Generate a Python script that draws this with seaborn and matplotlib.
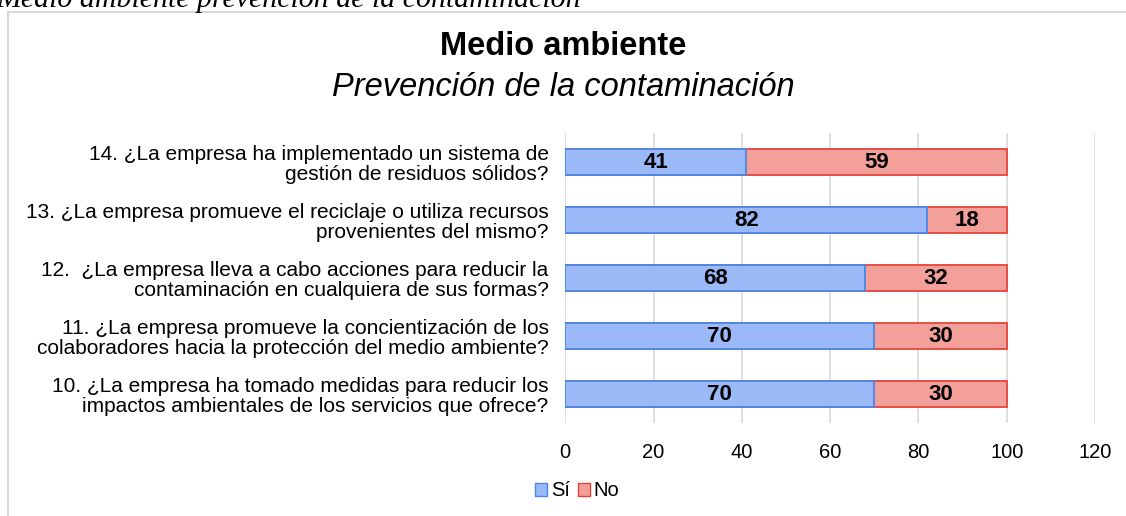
import pandas as pd
import matplotlib.pyplot as plt
import seaborn as sns
from matplotlib.patches import Rectangle, Patch

# Datos (de arriba hacia abajo)
preguntas = [
    "14. ¿La empresa ha implementado un sistema de\ngestión de residuos sólidos?",
    "13. ¿La empresa promueve el reciclaje o utiliza recursos\nprovenientes del mismo?",
    "12.  ¿La empresa lleva a cabo acciones para reducir la\ncontaminación en cualquiera de sus formas?",
    "11. ¿La empresa promueve la concientización de los\ncolaboradores hacia la protección del medio ambiente?",
    "10. ¿La empresa ha tomado medidas para reducir los\nimpactos ambientales de los servicios que ofrece?",
]
si = [41, 82, 68, 70, 70]
no = [59, 18, 32, 30, 30]
ticks_x = [0, 20, 40, 60, 80, 100, 120]

df = pd.DataFrame({"pregunta": preguntas, "si": si, "no": no})
df["total"] = df["si"] + df["no"]

sns.set_style("white")
plt.rcParams["font.family"] = ["Liberation Sans", "DejaVu Sans"]
plt.rcParams["text.color"] = "black"
plt.rcParams["xtick.color"] = "black"
plt.rcParams["ytick.color"] = "black"

color_si = "#9bb8f7"
borde_si = "#4a86e8"
color_no = "#f4a09a"
borde_no = "#e4433c"

fig = plt.figure(figsize=(11.26, 5.16), dpi=100)
ax = fig.add_axes([0.502, 0.180, 0.4705, 0.562])

# barras apiladas: primero el total (No), encima el Sí
sns.barplot(data=df, y="pregunta", x="total", color=color_no, orient="h", saturation=1,
            width=0.45, edgecolor=borde_no, linewidth=1.3, ax=ax)
sns.barplot(data=df, y="pregunta", x="si", color=color_si, orient="h", saturation=1,
            width=0.45, edgecolor=borde_si, linewidth=1.3, ax=ax)

# etiquetas de los valores
for i, (s, n) in enumerate(zip(si, no)):
    ax.text(s / 2, i, str(s), ha="center", va="center", fontsize=16, fontweight="bold")
    ax.text(s + n / 2, i, str(n), ha="center", va="center", fontsize=16, fontweight="bold")

ax.set_xlim(0, 120)
ax.set_ylim(4.5, -0.5)
ax.set_xticks(ticks_x)
ax.set_xticklabels([str(t) for t in ticks_x], fontsize=14.5)
ax.tick_params(axis="x", length=0, pad=14)
ax.tick_params(axis="y", length=0, pad=12, labelsize=15)
for lab in ax.get_yticklabels():
    lab.set_horizontalalignment("right")
    lab.set_multialignment("right")
    lab.set_linespacing(1.05)
ax.set_xlabel("")
ax.set_ylabel("")
ax.grid(axis="x", color="#d9d9d9", linewidth=1.2)
ax.set_axisbelow(True)
sns.despine(ax=ax, left=True, bottom=True)

# titulos
fig.text(0.5, 1 - 47 / 516, "Medio ambiente", ha="center", va="center",
         fontsize=23.5, fontweight="bold")
fig.text(0.5, 1 - 87 / 516, "Prevención de la contaminación", ha="center", va="center",
         fontsize=23.5, style="italic")

# texto cortado arriba del documento
fig.text(-0.003, 1 - 7 / 516, "Medio ambiente prevención de la contaminación",
         ha="left", va="baseline", fontsize=21.5, style="italic",
         family=["Liberation Serif", "DejaVu Serif"])

# marco del grafico
fig.patches.append(Rectangle((8 / 1126, -0.01), 1.2, 1 - 12 / 516 + 0.01,
                             transform=fig.transFigure, fill=False,
                             edgecolor="#d9d9d9", linewidth=1.5))

# leyenda
handles = [Patch(facecolor=color_si, edgecolor=borde_si, label="Sí"),
           Patch(facecolor=color_no, edgecolor=borde_no, label="No")]
fig.legend(handles=handles, loc="center", bbox_to_anchor=(577 / 1126, 1 - 491 / 516),
           ncol=2, frameon=False, fontsize=14.5, handlelength=0.6, handleheight=0.6,
           handletextpad=0.2, columnspacing=0.4)

fig.savefig("out.png", dpi=100)
